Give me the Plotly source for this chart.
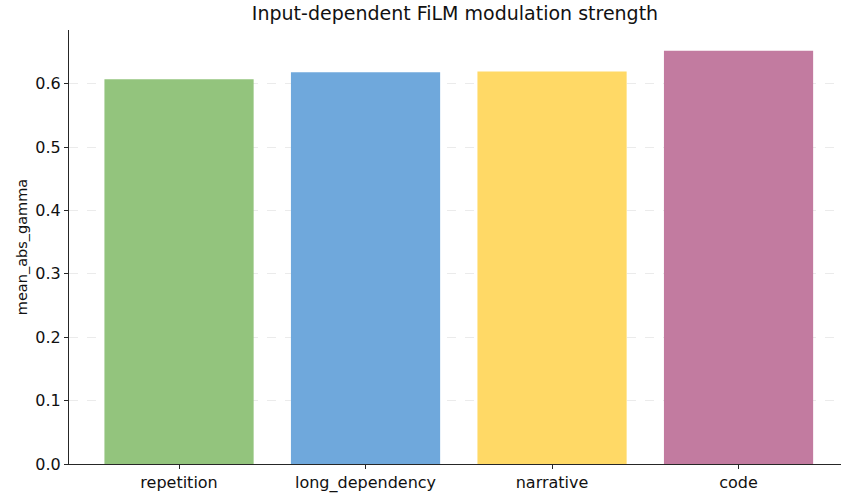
import plotly.graph_objects as go

categories = ["repetition", "long_dependency", "narrative", "code"]
values = [0.607, 0.618, 0.619, 0.652]
colors = ["#93c47d", "#6fa8dc", "#ffd966", "#c27ba0"]
y_ticks = [0.0, 0.1, 0.2, 0.3, 0.4, 0.5, 0.6]

font = "DejaVu Sans"
x_idx = list(range(len(categories)))

fig = go.Figure()
fig.add_trace(go.Bar(x=x_idx, y=values, marker=dict(color=colors, line=dict(width=0)),
                     width=0.8, hoverinfo="x+y"))

fig.update_layout(
    width=841, height=493,
    margin=dict(l=69, r=0, t=30, b=29),
    plot_bgcolor="white", paper_bgcolor="white",
    showlegend=False,
    font=dict(family=font, size=16, color="#111111"),
    title=dict(text="Input-dependent FiLM modulation strength", x=0.5, xanchor="center",
               xref="paper", yref="container", y=1 - 13/493, yanchor="middle",
               font=dict(family=font, size=19, color="#111111")),
)
fig.update_xaxes(
    range=[-0.59, -0.59 + 772/186.5],
    tickmode="array", tickvals=x_idx, ticktext=categories,
    showgrid=False, zeroline=False,
    showline=True, linecolor="#262626", linewidth=1,
    ticks="outside", ticklen=4, tickcolor="#262626",
    automargin=False,
)
fig.update_yaxes(
    range=[0, 0.6846],
    tickmode="array", tickvals=y_ticks, ticktext=[f"{v:.1f}" for v in y_ticks],
    showgrid=True, gridcolor="rgba(176,176,176,0.25)", griddash="dash", gridwidth=1,
    zeroline=False,
    showline=True, linecolor="#262626", linewidth=1,
    ticks="outside", ticklen=4, tickcolor="#262626",
    title=dict(text="mean_abs_gamma", standoff=4, font=dict(family=font, size=14.5)),
    automargin=False,
)

fig.write_html("out.html", config={"displayModeBar": False},
               post_script="document.body.style.margin='0';")
